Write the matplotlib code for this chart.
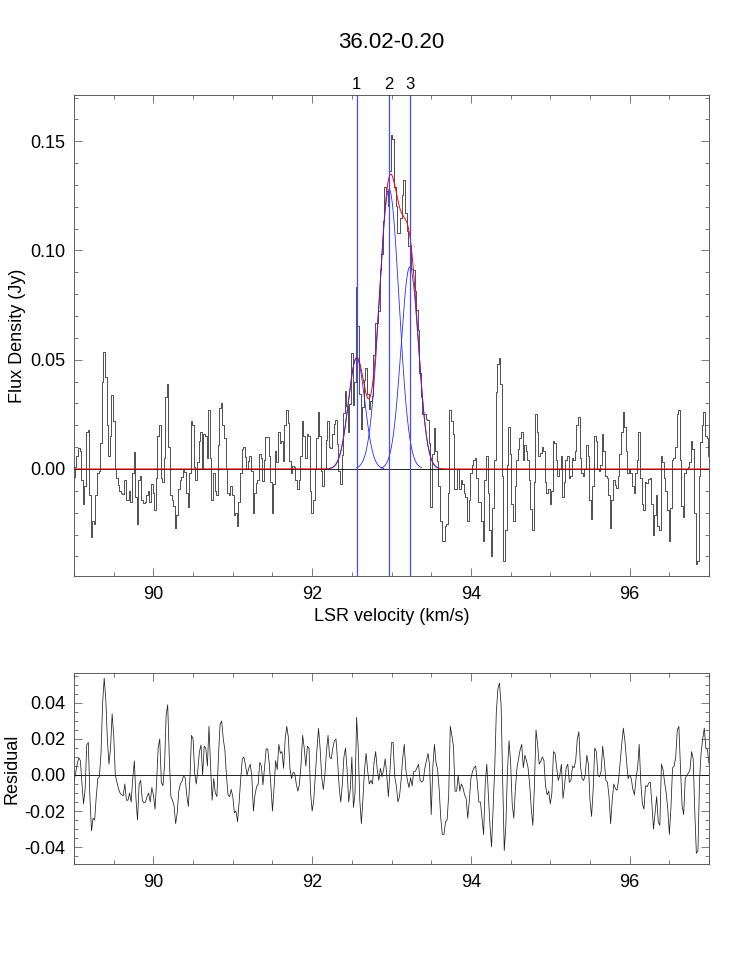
"""Spectrum with three-component Gaussian fit and residual panel."""

import matplotlib
matplotlib.use("Agg")
import matplotlib.pyplot as plt
import matplotlib.transforms as mtransforms
from matplotlib.ticker import MultipleLocator, FormatStrFormatter
import numpy as np

plt.rcParams["font.family"] = ["Liberation Sans", "DejaVu Sans"]

source_name = "36.02-0.20"

# channel grid (km/s)
v_start = 89.0
v_step = 0.02

# residual (mJy), one value per channel
residual_mjy = [
    # 89.00 - 91.02
    -3.7, 1, 6, 9.6, 8, -5, -16, -8, 16.7, 18,
    -12, -31, -24, -25, -12, -2, -1, 12, 40, 53.7,
    42, 20, 6, 15, 34, 22, 0, -4, -7.5, -10,
    -11, -11.5, -5, -14, -14, -10, -15, -2, 7.8, -13,
    -25, -5, -3, -14, -15.5, -15, -12, -10, -15, -7,
    -11, -19, -4, 15, 20, -4, -6, 5, 33, 39,
    10, -12, -14, -17, -27, -21, -9, -5, -3.5, -0.5,
    -1.5, -11, -17.5, -2, 22, 20, 1, -5, 3, 13,
    16.7, 0, 16, 15, 5, 27, 5, -14, -2, -10,
    -12, 11, 28, 30, 20, 14, 0, -11, -12, -8,
    -12, -21,
    # 91.04 - 93.02
    -20, -26, -15, -2, 9, 10, 5.5, 0, 3.5, 6,
    -1, -20, -11, -6.5, -5, 7, 5, -5.5, 4, 14.5,
    14.5, 6, -6, -20, -7, 8, 3, 17, 12, 13,
    3.7, 20, 27, 21, 3.7, -2, 1.5, 1, -5, -9,
    -5, 6, 22, 15, 5, 16, 15, -10, -20, -14,
    0, 14, 25.9, 15, -1, -8, 0, 13, 22, 10,
    9, 15, 19, 20, 8, -6.5, -15, -5, 10, 15,
    3, -15, -8, 10, -18, -10, 32, 15, -14, -27,
    -13, 3, 12, 2, -5, -3, -5, 7, 13, 3,
    -3, 3.7, -1, 3, 9, 0, -12, 2, 18, 18,
    # 93.04 - 95.00
    -1, -6, -15, -12, -3, 9, 17, 3, -3, -7,
    -1.5, -6, 2, 2, 4, 6, -3, -4, -3, 4,
    8, 12, 5, -22, 4, 17, 7, 3, -8, -24,
    -33, -33, -26, -25, -11, 27, 22, 16, -9, -9,
    0, -9, -5, -7, -11, -13, -24, -14, -2, 2,
    4, 5, -4, -15, -15, -24, -33, -5, 6, -11,
    -28, -40, -18, 4, 35, 48, 51, 39, -3, -42,
    -28, 2, 19, 7, -16, -24, -8, 4, 9, 14,
    17, 4, 11, 8, 4, -5, -18.5, -28, -6, 25,
    17, 6, 7.5, 10, 8, -6, -11, -9, -16,
    # 95.02 - 97.00
    -10, 13, 12, 4, -3, 0, 6, -13, -6, 4,
    6, -4, -3, 5, 4, 8, 20, 24, 5, -2,
    -3, 0, 11, 6, -14, -23, -8, 15, 13, 0,
    -1, 2, 16, 8, -3, -4, -12, -27, -14, -5,
    -7.5, -8.5, -3, 7, 17, 26, 19, 8, -2, 0,
    -2, -8, -11, -2, 4, 17, -4, -16, -19, -6,
    -6.5, -4.5, -4, -16, -30, -21, -12, -26, -28, 6,
    3, -4, -10, -19, -33, -18, 4, 5, 10, 25,
    27, 4, -17, -22, -2, 0, 1, 3, 13, 9,
    -20, -43.5, -42, -3, 12.5, 20, 26, 15, 14, 6,
]

# Gaussian components of the fit
comp_labels = ["1", "2", "3"]
comp_center = [92.56, 92.97, 93.23]
comp_peak = [0.0506, 0.128, 0.0925]
comp_sigma = [0.104, 0.124, 0.11]


def gauss(v, a, v0, s):
    return a * np.exp(-0.5 * ((v - v0) / s) ** 2)


vel = v_start + v_step * np.arange(len(residual_mjy))
resid = np.array(residual_mjy) / 1000.0
model = sum(gauss(vel, a, c, s) for a, c, s in zip(comp_peak, comp_center, comp_sigma))
flux = model + resid

vfine = np.linspace(vel[0], vel[-1], 2000)
model_fine = sum(gauss(vfine, a, c, s) for a, c, s in zip(comp_peak, comp_center, comp_sigma))

fig = plt.figure(figsize=(7.47, 9.61), dpi=100)
ax1 = fig.add_axes([0.0991, 0.4006, 0.8501, 0.5002])
ax2 = fig.add_axes([0.0991, 0.1006, 0.8501, 0.1994])

data_col = "#202020"

# top panel: spectrum and fit
ax1.step(vel, flux, where="mid", color=data_col, lw=0.55)
ax1.axhline(0, color="k", lw=0.6)
ax1.plot(vfine, model_fine, color="red", lw=0.7)
for a, c, s in zip(comp_peak, comp_center, comp_sigma):
    vc = np.linspace(c - 3.3 * s, c + 3.3 * s, 300)
    ax1.plot(vc, gauss(vc, a, c, s), color="#2a2aff", lw=0.6)
trans = mtransforms.blended_transform_factory(ax1.transData, ax1.transAxes)
for lab, c in zip(comp_labels, comp_center):
    ax1.axvline(c, color="#4848ff", lw=0.9)
    ax1.text(c, 1.006, lab, transform=trans, ha="center", va="bottom", fontsize=12)

ax1.set_xlim(89, 97)
ax1.set_ylim(-0.049, 0.171)
ax1.yaxis.set_major_locator(MultipleLocator(0.05))
ax1.yaxis.set_minor_locator(MultipleLocator(0.01))
ax1.yaxis.set_major_formatter(FormatStrFormatter("%.2f"))
ax1.set_xlabel("LSR velocity (km/s)", fontsize=13)
ax1.set_ylabel("Flux Density (Jy)", fontsize=13)

# bottom panel: residual
ax2.axhline(0, color="k", lw=0.6)
ax2.plot(vel, resid, color=data_col, lw=0.55)
ax2.set_xlim(89, 97)
ax2.set_ylim(-0.0496, 0.0568)
ax2.yaxis.set_major_locator(MultipleLocator(0.02))
ax2.yaxis.set_minor_locator(MultipleLocator(0.005))
ax2.yaxis.set_major_formatter(FormatStrFormatter("%.2f"))
ax2.set_ylabel("Residual", fontsize=13)

for ax in (ax1, ax2):
    ax.xaxis.set_major_locator(MultipleLocator(2))
    ax.xaxis.set_minor_locator(MultipleLocator(0.5))
    ax.xaxis.set_major_formatter(FormatStrFormatter("%d"))
    ax.tick_params(which="both", direction="in", top=True, right=True, width=0.5,
                   color="#444444", labelsize=13)
    ax.tick_params(which="major", length=6)
    ax.tick_params(which="minor", length=3)
    ax.tick_params(axis="x", pad=7)
    ax.tick_params(axis="y", pad=6)
    for sp in ax.spines.values():
        sp.set_linewidth(0.6)
        sp.set_color("#444444")

ax1.yaxis.set_label_coords(-0.076, 0.5)
ax2.yaxis.set_label_coords(-0.085, 0.5)

fig.text(391 / 747, 1 - 42 / 961, source_name, ha="center", va="center", fontsize=16)

fig.savefig("out.png", dpi=100)
